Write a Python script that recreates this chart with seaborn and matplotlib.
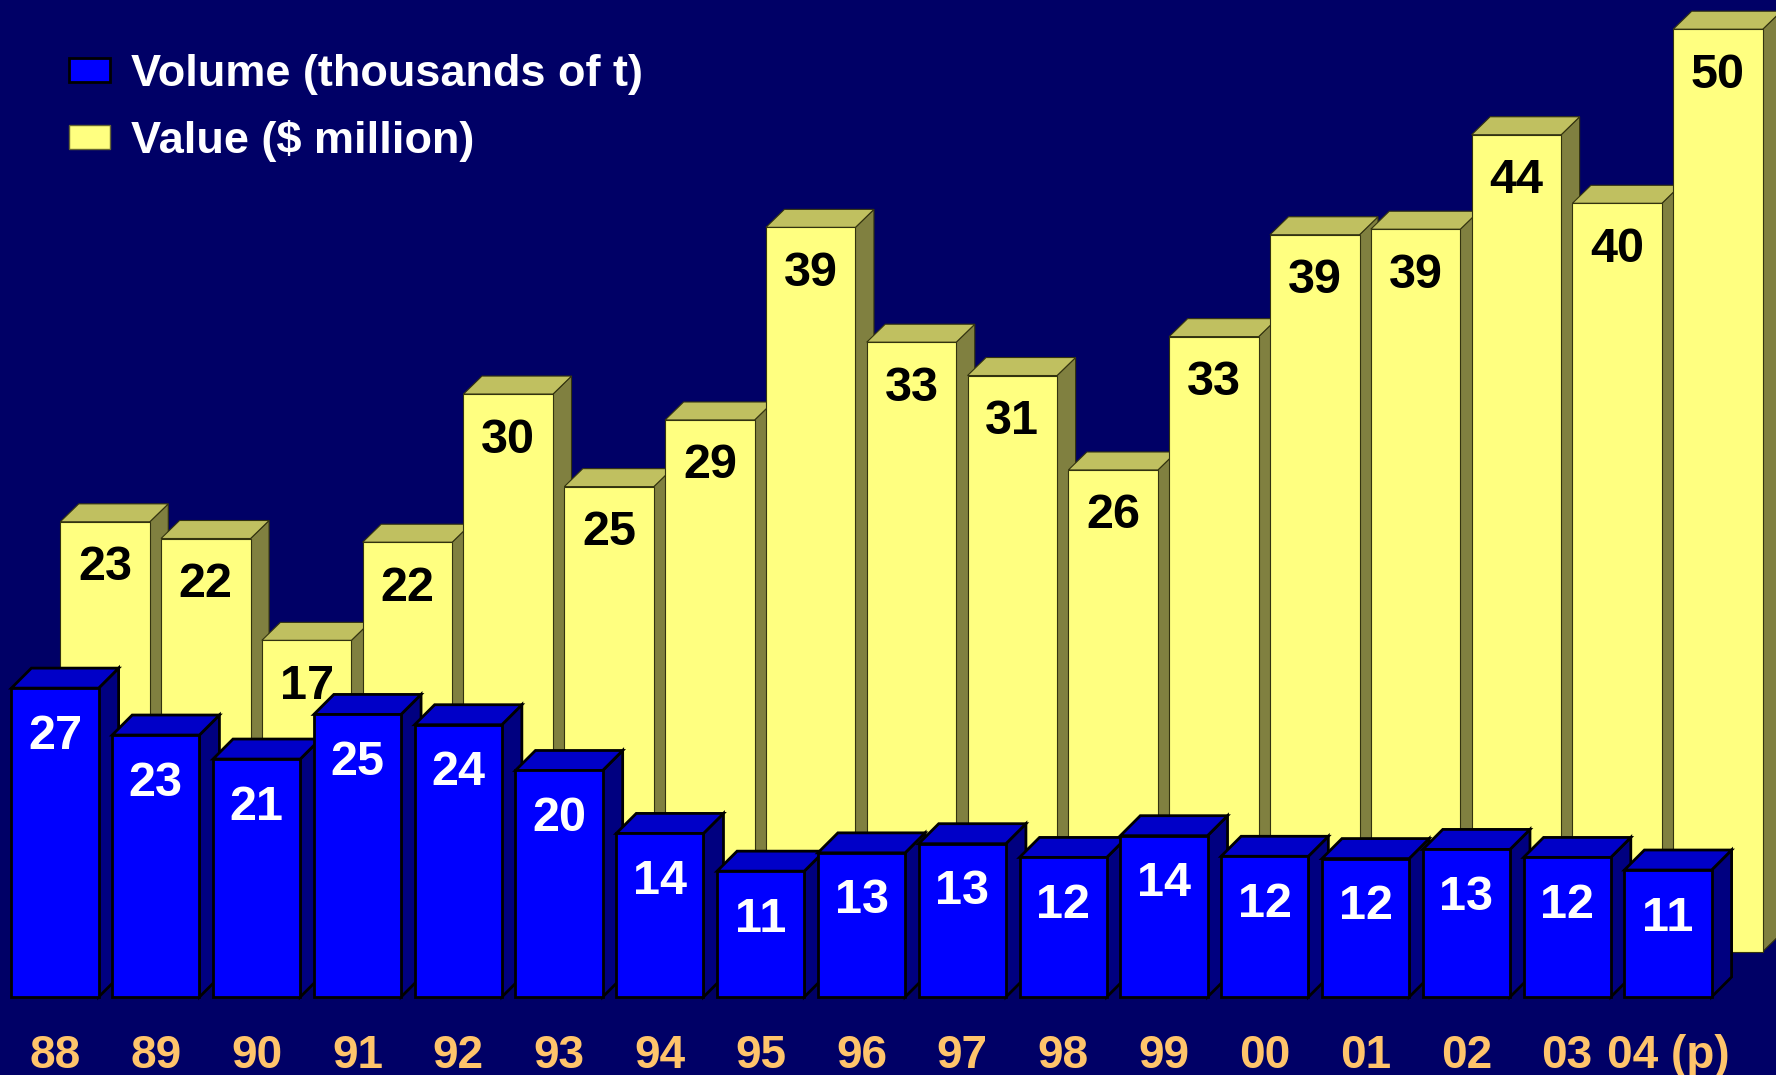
import numpy as np
import pandas as pd
import matplotlib
matplotlib.use("Agg")
import matplotlib.pyplot as plt
import seaborn as sns
from matplotlib.patches import Polygon, Patch
from matplotlib.transforms import IdentityTransform

# ---------------- data ----------------
years = ["88", "89", "90", "91", "92", "93", "94", "95", "96", "97",
         "98", "99", "00", "01", "02", "03", "04 (p)"]
volume = [27.0, 22.9, 20.8, 24.7, 23.8, 19.8, 14.3, 11.0, 12.6, 13.4,
          12.2, 14.1, 12.3, 12.1, 12.9, 12.2, 11.1]
value = [23.2, 22.3, 16.8, 22.1, 30.1, 25.1, 28.7, 39.1, 32.9, 31.1,
         26.0, 33.2, 38.7, 39.0, 44.1, 40.4, 49.8]
volume_labels = [27, 23, 21, 25, 24, 20, 14, 11, 13, 13, 12, 14, 12, 12, 13, 12, 11]
value_labels = [23, 22, 17, 22, 30, 25, 29, 39, 33, 31, 26, 33, 39, 39, 44, 40, 50]
series_names = ["Volume (thousands of t)", "Value ($ million)"]

# ---------------- style ----------------
BG = "#000066"
B_FRONT, B_TOP, B_SIDE, B_EDGE = "#0000FF", "#0000C8", "#000080", "#000000"
Y_FRONT, Y_TOP, Y_SIDE, Y_EDGE = "#FFFF80", "#C0C060", "#808040", "#33330F"
TICK_COLOR = "#FFC46B"

sns.set_style("white")
plt.rcParams["font.family"] = ["Liberation Sans", "DejaVu Sans"]
plt.rcParams["font.weight"] = "bold"

W, H = 1776, 1075
fig = plt.figure(figsize=(W / 100, H / 100), dpi=100, facecolor=BG)

span_w = 1713.8
ax_y = fig.add_axes([54.6 / W, (H - 951.5) / H, span_w / W, 951.5 / H])
ax_b = fig.add_axes([4.6 / W, (H - 997) / H, span_w / W, 997 / H])
ax_y.set_zorder(1)
ax_b.set_zorder(2)

df = pd.DataFrame({"year": years, "volume": volume, "value": value})

sns.barplot(data=df, x="year", y="value", ax=ax_y, color=Y_FRONT, saturation=1,
            width=0.888, edgecolor=Y_EDGE, linewidth=0.8, order=years)
sns.barplot(data=df, x="year", y="volume", ax=ax_b, color=B_FRONT, saturation=1,
            width=0.865, edgecolor=B_EDGE, linewidth=2.0, order=years)

ax_y.set_ylim(0, 951.5 / 18.52)
ax_b.set_ylim(0, 997 / 11.44)
for ax in (ax_y, ax_b):
    ax.set_xlim(-0.5, len(years) - 0.5)
    ax.patch.set_visible(False)
    for s in ax.spines.values():
        s.set_visible(False)
    ax.set_yticks([])
    ax.set_xlabel("")
    ax.set_ylabel("")
ax_y.set_xticks([])


def add_3d(ax, top_c, side_c, edge_c, lw, depth):
    dx, dy = depth
    T = ax.transData
    for i, p in enumerate(ax.patches):
        x0, w, h = p.get_x(), p.get_width(), p.get_height()
        br = T.transform((x0 + w, 0))
        tr = T.transform((x0 + w, h))
        tl = T.transform((x0, h))
        d = np.array([dx, dy])
        side = Polygon([br, tr, tr + d, br + d], closed=True, facecolor=side_c,
                       edgecolor=edge_c, linewidth=lw, transform=IdentityTransform(),
                       zorder=10 + 3 * i, clip_on=False)
        top = Polygon([tl, tr, tr + d, tl + d], closed=True, facecolor=top_c,
                      edgecolor=edge_c, linewidth=lw, transform=IdentityTransform(),
                      zorder=10 + 3 * i, clip_on=False)
        ax.add_artist(side)
        ax.add_artist(top)
        p.set_zorder(11 + 3 * i)
        p.set_clip_on(False)


add_3d(ax_y, Y_TOP, Y_SIDE, Y_EDGE, 0.8, (18.5, 18))
add_3d(ax_b, B_TOP, B_SIDE, B_EDGE, 2.0, (20, 20))

# value labels
for i, (v, lab) in enumerate(zip(value, value_labels)):
    ax_y.annotate(f"{lab}", xy=(i, v), xytext=(0, -46), textcoords="offset pixels",
                  ha="center", va="center", fontsize=35, fontweight="bold",
                  color="black", zorder=12 + 3 * i)
for i, (v, lab) in enumerate(zip(volume, volume_labels)):
    ax_b.annotate(f"{lab}", xy=(i, v), xytext=(0, -48), textcoords="offset pixels",
                  ha="center", va="center", fontsize=35, fontweight="bold",
                  color="white", zorder=12 + 3 * i)

ax_b.set_xticks(range(len(years)))
ax_b.set_xticklabels(years, fontsize=33, fontweight="bold", color=TICK_COLOR)
ax_b.tick_params(axis="x", length=0, pad=27)

handles = [Patch(facecolor=B_FRONT, edgecolor="black", linewidth=2.0),
           Patch(facecolor=Y_FRONT, edgecolor="#666633", linewidth=1.0)]
leg = fig.legend(handles, series_names, loc="upper left",
                 bbox_to_anchor=(69 / W, 1 - 54 / H), frameon=False,
                 fontsize=32.5, handlelength=0.91, handleheight=0.44,
                 handletextpad=0.47, labelspacing=0.56, borderpad=0,
                 borderaxespad=0)
for t in leg.get_texts():
    t.set_color("white")
    t.set_fontweight("bold")

fig.savefig("out.png", dpi=100, facecolor=BG)
